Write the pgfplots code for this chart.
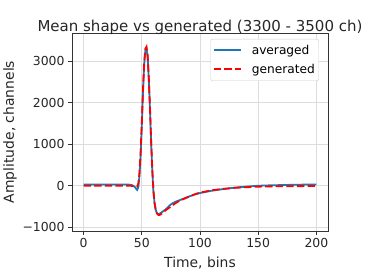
\documentclass[border=0pt]{standalone}
\usepackage{pgfplots}
\pgfplotsset{compat=1.18}
\usepackage{fontspec}
\setmainfont{DejaVu Sans}
\definecolor{mblue}{HTML}{1F77B4}
\definecolor{gridc}{HTML}{DDDDDD}
\definecolor{legc}{HTML}{CCCCCC}
\definecolor{spine}{HTML}{333333}
\begin{document}
\begin{tikzpicture}
\begin{axis}[
  scale only axis, width=256pt, height=198pt,
  xmin=-10, xmax=210, ymin=-1090, ymax=3680,
  xtick={0,50,100,150,200},
  ytick={-1000,0,1000,2000,3000},
  yticklabels={−1000,0,1000,2000,3000},
  /pgf/number format/assume math mode=true,
  tick label style={font=\fontsize{12.4}{14}\selectfont, text=black!85},
  label style={font=\fontsize{13.9}{16}\selectfont, text=black!85},
  title style={font=\fontsize{15}{17}\selectfont, text=black!85, yshift=-11pt},
  title={Mean shape vs generated (3300 - 3500 ch)},
  xlabel={Time, bins}, ylabel={Amplitude, channels},
  xlabel style={yshift=-2pt}, ylabel style={yshift=-1pt},
  grid=major, major grid style={gridc, line width=0.8pt},
  axis line style={spine, line width=0.8pt},
  tick align=outside, tick pos=left, major tick length=4pt,
  tick style={spine, line width=0.8pt},
  legend style={at={(1,1)}, xshift=-9pt, yshift=-6pt, anchor=north east,
    draw=legc, fill=white,
    font=\fontsize{12.2}{14}\selectfont, rounded corners=2pt, row sep=4pt,
    inner xsep=2pt, inner ysep=4pt,
    /tikz/every odd column/.append style={column sep=8pt}},
  legend image code/.code={\draw[#1, line width=2pt, sharp corners] (0pt,0.5pt) -- (27pt,0.5pt);},
  legend cell align=left,
]
\addplot[draw=mblue, line width=1.8pt] coordinates {
(0,30) (10,30) (20,30) (30,30) (38,28) (40,25) (42,10) (44,-30) (45,-70) (46,-100) (47,-40)
(48,250) (49,750) (50,1450) (51,2250) (52,2900) (53,3250) (54,3300) (55,3100)
(56,2550) (57,1850) (58,1050) (59,350) (60,-150) (61,-430) (62,-590) (63,-660)
(64,-680) (65,-680) (66,-660) (68,-620) (70,-580) (72,-530) (74,-470) (76,-430)
(78,-400) (80,-375) (85,-320) (90,-265) (95,-215) (100,-175) (110,-120) (120,-80)
(130,-45) (140,-20) (150,0) (160,10) (175,20) (190,28) (200,30)
};
\addplot[draw=red, line width=1.8pt, dash pattern=on 7.4pt off 3.2pt] coordinates {
(0,0) (10,0) (20,0) (30,0) (40,0) (42,-5) (44,-15) (45,-25) (46,-20) (47,60)
(48,320) (49,820) (50,1520) (51,2320) (52,2950) (53,3300) (54,3350) (55,3150)
(56,2600) (57,1900) (58,1100) (59,400) (60,-120) (61,-420) (62,-590) (63,-670)
(64,-700) (65,-705) (66,-695) (68,-650) (70,-600) (72,-560) (75,-500) (78,-440)
(80,-400) (85,-330) (90,-270) (95,-210) (100,-165) (110,-110) (120,-75)
(130,-50) (140,-35) (150,-22) (160,-15) (175,-10) (190,-8) (200,-8)
};
\legend{averaged, generated}
\end{axis}
\pgfresetboundingbox
\path[use as bounding box] (-72pt,-43pt) rectangle (293pt,231pt);
\end{tikzpicture}
\end{document}
